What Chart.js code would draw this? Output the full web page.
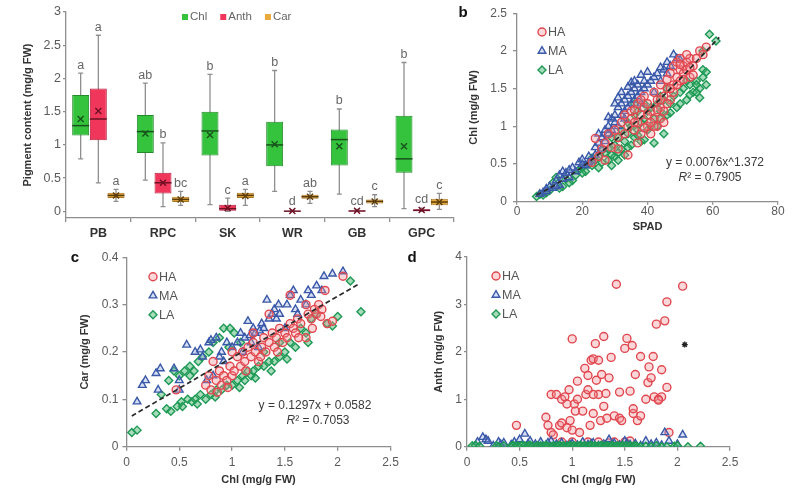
<!DOCTYPE html>
<html>
<head>
<meta charset="utf-8">
<script src="https://cdn.jsdelivr.net/npm/chart.js@4.4.0/dist/chart.umd.min.js"></script>
<style>
  body { margin: 0; background: #fff; }
  #wrap { position: relative; width: 792px; height: 492px; overflow: hidden; }
  canvas { position: absolute; }
</style>
</head>
<body>
<div id="wrap">
  <canvas id="pa" width="470" height="245" style="left:0;top:0"></canvas>
  <canvas id="pb" width="352" height="245" style="left:440px;top:0"></canvas>
  <canvas id="pc" width="420" height="247" style="left:0;top:245px"></canvas>
  <canvas id="pd" width="402" height="247" style="left:390px;top:245px"></canvas>
</div>
<script>
// ---- panel a: box plots ----
const groups = ['PB', 'RPC', 'SK', 'WR', 'GB', 'GPC'];
// [min, q1, median, q3, max, mean]
const chlBox = [
  [0.79, 1.14, 1.29, 1.75, 2.08, 1.39],
  [0.47, 0.88, 1.20, 1.45, 1.93, 1.17],
  [0.10, 0.84, 1.21, 1.50, 2.06, 1.15],
  [0.30, 0.68, 1.00, 1.35, 2.12, 1.01],
  [0.26, 0.69, 1.08, 1.23, 1.54, 0.98],
  [0.04, 0.58, 0.79, 1.44, 2.24, 0.98]
];
const anthBox = [
  [0.43, 1.07, 1.39, 1.85, 2.65, 1.51],
  [0.07, 0.27, 0.43, 0.58, 1.03, 0.43],
  [0.00, 0.00, 0.04, 0.10, 0.20, 0.05],
  [0.00, 0.00, 0.003, 0.01, 0.02, 0.005],
  [0.00, 0.00, 0.005, 0.015, 0.03, 0.01],
  [0.00, 0.005, 0.015, 0.03, 0.05, 0.02]
];
const carBox = [
  [0.15, 0.20, 0.24, 0.28, 0.33, 0.24],
  [0.09, 0.14, 0.18, 0.22, 0.30, 0.18],
  [0.09, 0.20, 0.24, 0.28, 0.33, 0.23],
  [0.12, 0.19, 0.22, 0.25, 0.30, 0.22],
  [0.07, 0.12, 0.15, 0.18, 0.25, 0.15],
  [0.03, 0.09, 0.14, 0.19, 0.27, 0.14]
];
const chlLetters = ['a', 'ab', 'b', 'b', 'b', 'b'];
const anthLetters = ['a', 'b', 'c', 'd', 'cd', 'cd'];
const carLetters = ['a', 'bc', 'a', 'ab', 'c', 'c'];
const pigmentTicks = [0, 0.5, 1, 1.5, 2, 2.5, 3];

// ---- panel b: SPAD vs Chl ----
const spadHA = [[23,0.52],[24,0.84],[25,0.6],[26,0.7],[27,0.78],[28,0.9],[29,0.72],[30,0.95],[31,0.85],[32,1.05],[33,0.9],[33,1.15],[34,1.0],[35,1.2],[35,1.1],[36,0.95],[36,1.22],[37,1.3],[37,1.05],[38,1.15],[38,0.9],[39,1.25],[39,1.4],[40,1.0],[40,1.3],[41,0.9],[41,1.2],[42,1.45],[42,1.1],[43,1.35],[43,1.0],[44,1.25],[44,1.55],[45,1.4],[45,1.2],[46,1.5],[46,1.62],[47,1.35],[47,1.7],[48,1.55],[48,1.8],[49,1.65],[49,1.85],[50,1.75],[50,1.6],[51,1.8],[51,1.7],[52,1.85],[52,1.75],[53,1.9],[53,1.65],[54,1.8],[55,1.9],[56,2.0],[57,1.95],[58,2.05],[52,1.95],[50,1.9],[48,1.45],[46,1.3],[44,1.1],[42,1.0],[40,1.15],[38,1.35],[36,1.05],[34,0.62],[37,0.78],[41,1.05],[43,1.22],[45,1.05],[47,1.5],[49,1.55],[51,1.62],[53,1.78],[54,1.68],[50,1.82],[39,0.98],[31,0.7],[27,0.55],[44,1.35]];
const spadMA = [[7,0.1],[8,0.12],[9,0.14],[10,0.2],[11,0.18],[12,0.28],[13,0.22],[13,0.35],[14,0.3],[15,0.38],[16,0.32],[17,0.45],[18,0.4],[19,0.52],[20,0.5],[21,0.48],[22,0.6],[23,0.55],[24,0.72],[25,0.78],[26,0.85],[26,0.7],[27,0.95],[27,0.8],[28,1.0],[28,0.9],[29,1.1],[29,0.95],[30,1.15],[30,1.05],[31,1.25],[31,1.0],[32,1.3],[32,1.15],[33,1.35],[33,1.2],[34,1.4],[34,1.25],[35,1.45],[35,1.3],[36,1.5],[36,1.35],[37,1.4],[37,1.55],[38,1.45],[38,1.3],[39,1.6],[39,1.5],[40,1.55],[41,1.6],[42,1.45],[42,1.65],[43,1.7],[44,1.6],[45,1.75],[46,1.85],[47,1.8],[48,1.95],[49,1.9],[50,1.88],[33,1.1],[31,1.38],[35,1.58],[9,0.17],[12,0.2],[14,0.4],[16,0.42],[20,0.56],[22,0.52],[24,0.62],[25,0.9],[28,1.12],[30,1.3],[32,1.45],[34,1.52],[36,1.6],[38,1.68],[40,1.72],[44,1.78],[46,1.7]];
const spadLA = [[6,0.07],[7,0.1],[8,0.09],[10,0.15],[11,0.25],[12,0.32],[14,0.2],[15,0.3],[17,0.28],[18,0.35],[19,0.42],[20,0.45],[21,0.4],[22,0.5],[23,0.48],[24,0.55],[25,0.6],[25,0.45],[26,0.52],[27,0.65],[28,0.55],[28,0.7],[29,0.48],[30,0.6],[30,0.75],[31,0.55],[31,0.85],[32,0.7],[32,0.95],[33,0.62],[33,0.8],[34,0.9],[34,1.05],[35,0.75],[35,1.0],[36,0.85],[36,1.15],[37,0.95],[37,1.2],[38,1.05],[38,0.8],[39,1.1],[39,1.3],[40,0.95],[40,1.2],[41,1.25],[42,0.78],[42,1.1],[43,1.3],[43,1.0],[44,1.2],[44,1.4],[45,0.9],[45,1.35],[46,1.15],[46,1.5],[47,1.3],[48,1.4],[49,1.25],[50,1.45],[51,1.5],[52,1.35],[53,1.55],[54,1.45],[55,1.6],[56,1.5],[57,1.65],[57,1.75],[58,1.55],[55,1.45],[57,2.0],[59,2.22],[61,2.13],[29,0.85],[36,1.3],[9,0.12],[13,0.18],[16,0.25],[20,0.38],[23,0.58],[26,0.68],[29,0.62],[31,0.65],[34,0.72],[37,0.88],[39,0.82],[41,1.0],[44,1.1],[47,1.18],[50,1.3],[53,1.42],[56,1.38],[58,1.72],[55,1.55],[52,1.6]];
const spadTrend = [[6,0.09],[10,0.18],[20,0.46],[30,0.81],[40,1.2],[50,1.63],[60,2.09],[62,2.18]];
const spadTicks = [0, 20, 40, 60, 80];
const chlTicksB = [0, 0.5, 1, 1.5, 2, 2.5];

// ---- panel c: Chl vs Car ----
const carHA = [[0.47,0.12],[0.75,0.13],[0.78,0.15],[0.8,0.12],[0.85,0.14],[0.88,0.16],[0.9,0.13],[0.92,0.15],[0.95,0.14],[0.98,0.17],[1.0,0.15],[1.02,0.16],[1.05,0.19],[1.08,0.17],[1.1,0.2],[1.12,0.18],[1.15,0.21],[1.18,0.19],[1.2,0.22],[1.22,0.2],[1.25,0.18],[1.28,0.21],[1.3,0.23],[1.32,0.2],[1.35,0.22],[1.38,0.24],[1.4,0.21],[1.42,0.23],[1.45,0.25],[1.48,0.22],[1.5,0.24],[1.52,0.23],[1.55,0.26],[1.58,0.25],[1.6,0.24],[1.62,0.27],[1.65,0.26],[1.7,0.23],[1.72,0.28],[1.75,0.27],[1.78,0.29],[1.8,0.28],[1.82,0.3],[1.85,0.29],[1.88,0.33],[1.9,0.26],[1.95,0.265],[2.05,0.36],[1.55,0.32],[1.2,0.24],[0.82,0.18],[1.0,0.2],[1.35,0.28],[1.7,0.3],[0.96,0.125],[1.13,0.16],[1.27,0.19],[1.43,0.2],[1.63,0.23],[1.76,0.25],[1.84,0.275],[0.86,0.115]];
const carMA = [[0.1,0.095],[0.15,0.13],[0.18,0.14],[0.28,0.155],[0.32,0.165],[0.3,0.12],[0.45,0.165],[0.5,0.14],[0.5,0.12],[0.57,0.215],[0.65,0.2],[0.7,0.205],[0.72,0.19],[0.78,0.22],[0.8,0.225],[0.82,0.15],[0.85,0.23],[0.88,0.19],[0.9,0.2],[0.95,0.22],[1.0,0.21],[1.05,0.22],[1.08,0.24],[1.12,0.23],[1.15,0.265],[1.18,0.22],[1.2,0.25],[1.22,0.24],[1.25,0.21],[1.28,0.26],[1.3,0.25],[1.33,0.31],[1.35,0.27],[1.38,0.28],[1.4,0.29],[1.42,0.27],[1.45,0.28],[1.5,0.25],[1.52,0.3],[1.55,0.32],[1.58,0.33],[1.6,0.29],[1.65,0.31],[1.7,0.3],[1.72,0.33],[1.75,0.32],[1.8,0.34],[1.85,0.33],[1.87,0.36],[1.95,0.365],[2.05,0.37],[0.92,0.18],[1.1,0.2],[0.76,0.14],[1.17,0.235],[1.26,0.245],[1.44,0.3],[1.62,0.28]];
const carLA = [[0.05,0.03],[0.1,0.035],[0.28,0.07],[0.33,0.11],[0.38,0.08],[0.42,0.075],[0.45,0.16],[0.48,0.085],[0.5,0.15],[0.52,0.095],[0.55,0.16],[0.58,0.1],[0.6,0.17],[0.62,0.095],[0.65,0.1],[0.68,0.18],[0.7,0.11],[0.72,0.19],[0.75,0.1],[0.78,0.2],[0.8,0.11],[0.82,0.22],[0.85,0.12],[0.88,0.23],[0.9,0.12],[0.92,0.25],[0.95,0.13],[0.98,0.25],[1.0,0.13],[1.02,0.24],[1.05,0.14],[1.08,0.22],[1.1,0.15],[1.12,0.14],[1.15,0.16],[1.18,0.15],[1.2,0.16],[1.25,0.17],[1.3,0.17],[1.35,0.18],[1.4,0.18],[1.45,0.19],[1.5,0.2],[1.52,0.185],[1.55,0.22],[1.6,0.21],[1.65,0.25],[1.7,0.24],[1.72,0.22],[1.75,0.27],[1.8,0.28],[1.9,0.26],[1.95,0.255],[2.0,0.275],[2.12,0.35],[2.22,0.285],[0.4,0.14],[0.6,0.15],[1.3,0.2],[1.45,0.22],[0.53,0.085],[0.67,0.09],[0.84,0.105],[1.07,0.125],[1.22,0.145],[1.37,0.16],[0.97,0.21],[0.64,0.16]];
const carTrend = [[0.05,0.065],[2.21,0.345]];
const chlTicks = [0, 0.5, 1, 1.5, 2, 2.5];
const carTicks = [0, 0.1, 0.2, 0.3, 0.4];

// ---- panel d: Chl vs Anth ----
const anthHA = [[0.47,0.45],[0.75,0.62],[0.77,0.45],[0.8,0.3],[0.82,0.25],[0.8,1.1],[0.85,1.1],[0.88,0.45],[0.9,1.0],[0.9,0.5],[0.93,1.05],[0.95,0.4],[0.97,1.2],[0.98,0.55],[1.0,0.35],[1.0,2.27],[1.02,0.9],[1.03,0.75],[1.05,1.38],[1.07,0.3],[1.1,0.75],[1.12,1.65],[1.13,1.1],[1.15,1.5],[1.15,1.2],[1.17,0.45],[1.18,1.82],[1.2,0.7],[1.2,1.85],[1.22,2.17],[1.23,1.4],[1.25,1.1],[1.25,1.82],[1.27,0.55],[1.28,1.52],[1.3,2.32],[1.3,0.85],[1.32,1.12],[1.33,0.6],[1.35,1.45],[1.37,1.88],[1.4,0.65],[1.42,3.42],[1.45,0.6],[1.47,0.55],[1.5,2.07],[1.5,0.1],[1.52,2.28],[1.55,1.17],[1.57,2.13],[1.58,0.7],[1.58,0.8],[1.6,1.52],[1.62,0.55],[1.65,1.9],[1.65,0.65],[1.7,1.0],[1.72,1.35],[1.73,1.68],[1.75,1.45],[1.77,1.9],[1.78,1.05],[1.8,2.58],[1.82,1.0],[1.85,1.05],[1.85,1.62],[1.88,2.65],[1.9,1.25],[1.9,3.05],[1.92,0.3],[2.05,3.38],[1.15,0.1],[1.0,0.1],[0.9,0.1],[1.25,0.1],[1.4,0.1],[1.55,0.12],[1.35,0.08],[1.82,0.98],[1.2,1.1],[1.45,1.15],[1.05,1.0],[0.95,0.9]];
const anthMA = [[0.1,0.1],[0.15,0.2],[0.18,0.15],[0.2,0.12],[0.3,0.1],[0.32,0.05],[0.35,0.08],[0.45,0.1],[0.5,0.15],[0.55,0.27],[0.6,0.12],[0.65,0.05],[0.7,0.1],[0.75,0.03],[0.8,0.12],[0.85,0.05],[0.9,0.08],[0.95,0.02],[1.0,0.06],[1.05,0.03],[1.1,0.1],[1.15,0.04],[1.2,0.08],[1.25,0.02],[1.3,0.05],[1.35,0.15],[1.4,0.07],[1.45,0.03],[1.5,0.12],[1.55,0.04],[1.6,0.06],[1.7,0.12],[1.75,0.05],[1.8,0.08],[1.85,0.03],[1.88,0.3],[1.92,0.12],[2.05,0.25],[2.0,0.05],[0.25,0.02],[1.65,0.02],[0.42,0.04],[0.58,0.06],[0.77,0.08],[0.98,0.04],[1.18,0.06],[1.38,0.04],[1.52,0.07]];
const anthLA = [[0.05,0.02],[0.08,0.03],[0.12,0.01],[0.28,0.02],[0.3,0.0],[0.35,0.02],[0.42,0.01],[0.44,0.03],[0.46,0.0],[0.48,0.02],[0.5,0.0],[0.52,0.03],[0.55,0.02],[0.57,0.0],[0.58,0.01],[0.6,0.03],[0.62,0.01],[0.65,0.0],[0.67,0.02],[0.7,0.02],[0.72,0.01],[0.74,0.0],[0.75,0.03],[0.77,0.01],[0.8,0.0],[0.82,0.02],[0.84,0.0],[0.85,0.01],[0.87,0.02],[0.88,0.03],[0.9,0.0],[0.91,0.01],[0.92,0.02],[0.94,0.0],[0.95,0.01],[0.97,0.02],[0.98,0.03],[1.0,0.0],[1.01,0.01],[1.02,0.02],[1.04,0.0],[1.05,0.01],[1.07,0.02],[1.08,0.03],[1.1,0.0],[1.11,0.01],[1.12,0.02],[1.14,0.0],[1.15,0.01],[1.17,0.02],[1.18,0.03],[1.2,0.0],[1.21,0.01],[1.22,0.02],[1.24,0.0],[1.25,0.01],[1.27,0.02],[1.28,0.03],[1.3,0.0],[1.31,0.01],[1.33,0.02],[1.35,0.01],[1.37,0.0],[1.38,0.03],[1.4,0.0],[1.42,0.01],[1.43,0.02],[1.45,0.01],[1.47,0.0],[1.48,0.03],[1.5,0.0],[1.52,0.02],[1.55,0.02],[1.57,0.0],[1.58,0.01],[1.6,0.02],[1.62,0.0],[1.65,0.0],[1.7,0.01],[1.75,0.0],[1.8,0.02],[1.85,0.0],[1.9,0.0],[1.97,0.01],[2.0,0.02],[2.1,0.0],[2.22,0.01]];
const anthStar = [[2.07, 2.15]];
const anthTicks = [0, 1, 2, 3, 4];

// ---- drawing helpers ----
Chart.defaults.font.family = "'Liberation Sans', Arial, sans-serif";
const axisColor = '#8e8e8e';
const tickColor = '#5a5a5a';
const titleColor = '#333';

const seriesStyle = {
  HA: { style: 'circle', radius: 4, stroke: '#e0474f', fill: 'rgba(240,140,145,0.35)' },
  MA: { style: 'triangle', radius: 4.4, stroke: '#3a58a8', fill: 'rgba(120,150,220,0.3)' },
  LA: { style: 'rectRot', radius: 4, stroke: '#1e9a55', fill: 'rgba(60,175,105,0.45)' }
};

function drawMarker(ctx, s, x, y) {
  ctx.save();
  ctx.strokeStyle = s.stroke;
  ctx.fillStyle = s.fill;
  ctx.lineWidth = 1.4;
  Chart.helpers.drawPoint(ctx, { pointStyle: s.style, radius: s.radius, borderWidth: 1.4, rotation: 0 }, x, y);
  ctx.restore();
}

function drawEq(ctx, line1, r2, x1, y1, x2, y2) {
  const plain = "12px 'Liberation Sans', Arial, sans-serif";
  const ital = "italic 12px 'Liberation Sans', Arial, sans-serif";
  ctx.save();
  ctx.fillStyle = '#3a3a3a';
  ctx.font = plain;
  ctx.textAlign = 'center';
  ctx.textBaseline = 'middle';
  ctx.fillText(line1, x1, y1);
  const rest = '\u00b2 = ' + r2;
  ctx.font = ital;
  const wR = ctx.measureText('R').width;
  ctx.font = plain;
  const wRest = ctx.measureText(rest).width;
  const start = x2 - (wR + wRest) / 2;
  ctx.textAlign = 'left';
  ctx.font = ital;
  ctx.fillText('R', start, y2);
  ctx.font = plain;
  ctx.fillText(rest, start + wR, y2);
  ctx.restore();
}

function extras(cfg) {
  return {
    id: 'extras',
    afterDraw(chart) {
      const ctx = chart.ctx;
      ctx.save();
      ctx.fillStyle = '#111';
      ctx.font = "bold 15px 'Liberation Sans', Arial, sans-serif";
      ctx.textBaseline = 'middle';
      ctx.textAlign = 'center';
      ctx.fillText(cfg.letter, cfg.letterX, cfg.letterY);
      ['HA', 'MA', 'LA'].forEach((name, i) => {
        const y = cfg.legY + i * 19;
        drawMarker(ctx, seriesStyle[name], cfg.legX, y);
        ctx.fillStyle = '#555';
        ctx.font = "12.5px 'Liberation Sans', Arial, sans-serif";
        ctx.textAlign = 'left';
        ctx.fillText(name, cfg.legX + 6, y + 0.5);
      });
      if (cfg.eq) drawEq(ctx, cfg.eq, cfg.r2, cfg.eqX, cfg.eqY, cfg.r2X, cfg.eqY + 15);
      ctx.restore();
    }
  };
}

function pts(name, data, order) {
  const s = seriesStyle[name];
  return {
    label: name, data: data, order: order,
    pointStyle: s.style, pointRadius: s.radius, pointBorderWidth: 1.4,
    borderColor: s.stroke, backgroundColor: s.fill
  };
}

function linearAxis(o) {
  return {
    type: 'linear', position: o.position, min: o.ticks[0], max: o.ticks[o.ticks.length - 1],
    afterBuildTicks: s => { s.ticks = o.ticks.map(v => ({ value: v })); },
    afterFit: s => { if (o.position === 'left') s.width = o.size; else s.height = o.size; },
    border: { color: axisColor, width: 1.3 },
    grid: { display: true, drawOnChartArea: false, color: axisColor, lineWidth: 1.3, tickLength: o.tl },
    ticks: { padding: o.pad, color: tickColor, font: { size: 12 }, callback: v => String(v) },
    title: {
      display: true, text: o.title, color: titleColor, font: { size: 11, weight: 'bold' },
      padding: o.position === 'left' ? { top: o.tpad, bottom: 0 } : { top: 0, bottom: o.tpad }
    }
  };
}

// lower order is drawn on top
function scatterChart(id, o) {
  const ord = o.order || [1, 2, 3];
  const datasets = [
    pts('HA', o.ha, ord[0]),
    pts('MA', o.ma, ord[1]),
    pts('LA', o.la, ord[2])
  ];
  if (o.trend) {
    datasets.push({
      type: 'line', data: o.trend, order: 0, borderColor: '#2a2a2a', borderWidth: 1.7,
      borderDash: [5, 3], pointRadius: 0, fill: false, tension: 0.3
    });
  }
  if (o.star) {
    datasets.push({
      data: o.star, order: 0, pointStyle: 'star', pointRadius: 3,
      borderColor: '#222', backgroundColor: '#222', pointBorderWidth: 1.3
    });
  }
  return new Chart(document.getElementById(id), {
    type: 'scatter',
    data: { datasets: datasets },
    options: {
      responsive: false, animation: false,
      layout: { padding: { left: 0, top: o.top, right: o.right, bottom: 0 } },
      plugins: { legend: { display: false }, tooltip: { enabled: false } },
      scales: { x: linearAxis(o.x), y: linearAxis(o.y) }
    },
    plugins: [extras(o.extras)]
  });
}

// ---- panel a ----
const boxSeries = [
  { label: 'Chl', stats: chlBox, letters: chlLetters, fill: '#35c23d', edge: '#23892a', dark: '#17531b' },
  { label: 'Anth', stats: anthBox, letters: anthLetters, fill: '#f1365b', edge: '#b51f3e', dark: '#6e1024' },
  { label: 'Car', stats: carBox, letters: carLetters, fill: '#e8aa3c', edge: '#a87420', dark: '#5a3c0c' }
];

const boxPlot = {
  id: 'boxPlot',
  beforeDatasetsDraw(chart) {
    const ctx = chart.ctx, y = chart.scales.y;
    ctx.save();
    ctx.strokeStyle = '#8f8f8f';
    ctx.lineWidth = 1.3;
    boxSeries.forEach((s, d) => {
      chart.getDatasetMeta(d).data.forEach((bar, i) => {
        const st = s.stats[i];
        const lo = y.getPixelForValue(st[0]), hi = y.getPixelForValue(st[4]);
        ctx.beginPath();
        ctx.moveTo(bar.x, lo); ctx.lineTo(bar.x, hi);
        ctx.moveTo(bar.x - 2.5, lo); ctx.lineTo(bar.x + 2.5, lo);
        ctx.moveTo(bar.x - 2.5, hi); ctx.lineTo(bar.x + 2.5, hi);
        ctx.stroke();
      });
    });
    ctx.restore();
  },
  afterDatasetsDraw(chart) {
    const ctx = chart.ctx, y = chart.scales.y;
    ctx.save();
    boxSeries.forEach((s, d) => {
      chart.getDatasetMeta(d).data.forEach((bar, i) => {
        const st = s.stats[i];
        const half = bar.width / 2;
        const my = y.getPixelForValue(st[2]);
        ctx.strokeStyle = s.dark;
        ctx.lineWidth = 1.5;
        ctx.beginPath();
        ctx.moveTo(bar.x - half, my); ctx.lineTo(bar.x + half, my);
        ctx.stroke();
        const mx = y.getPixelForValue(st[5]);
        ctx.lineWidth = 1.4;
        ctx.beginPath();
        ctx.moveTo(bar.x - 3, mx - 3); ctx.lineTo(bar.x + 3, mx + 3);
        ctx.moveTo(bar.x - 3, mx + 3); ctx.lineTo(bar.x + 3, mx - 3);
        ctx.stroke();
        ctx.fillStyle = '#666';
        ctx.font = "12.5px 'Liberation Sans', Arial, sans-serif";
        ctx.textAlign = 'center';
        ctx.textBaseline = 'middle';
        ctx.fillText(s.letters[i], bar.x, y.getPixelForValue(st[4]) - 8);
      });
    });
    // legend
    let lx = 185;
    const ly = 17;
    ctx.font = "11.5px 'Liberation Sans', Arial, sans-serif";
    ctx.textBaseline = 'middle';
    ctx.textAlign = 'left';
    boxSeries.forEach(s => {
      ctx.fillStyle = s.fill;
      ctx.fillRect(lx - 3, ly - 3, 6, 6);
      ctx.fillStyle = '#666';
      ctx.fillText(s.label, lx + 5, ly);
      lx += ctx.measureText(s.label).width + 21;
    });
    ctx.restore();
  }
};

new Chart(document.getElementById('pa'), {
  type: 'bar',
  data: {
    labels: groups,
    datasets: boxSeries.map(s => ({
      label: s.label,
      data: s.stats.map(st => [st[1], st[3]]),
      backgroundColor: s.fill,
      borderColor: s.edge,
      borderWidth: 1,
      borderSkipped: false,
      categoryPercentage: 0.82,
      barPercentage: 0.96
    }))
  },
  options: {
    responsive: false, animation: false,
    layout: { padding: { left: 0, top: 12, right: 16, bottom: 0 } },
    plugins: { legend: { display: false }, tooltip: { enabled: false } },
    scales: {
      x: {
        afterFit: s => { s.height = 27; },
        border: { color: axisColor, width: 1.3 },
        grid: { display: true, drawOnChartArea: false, color: axisColor, lineWidth: 1.3, tickLength: 4 },
        ticks: { padding: 4, color: '#333', font: { size: 12.5, weight: 'bold' } }
      },
      y: {
        min: -0.1, max: 3,
        afterBuildTicks: s => { s.ticks = pigmentTicks.map(v => ({ value: v })); },
        afterFit: s => { s.width = 66; },
        border: { color: axisColor, width: 1.3 },
        grid: { display: true, drawOnChartArea: false, color: axisColor, lineWidth: 1.3, tickLength: 3 },
        ticks: { padding: 2, color: tickColor, font: { size: 12.5 }, callback: v => String(v) },
        title: {
          display: true, text: 'Pigment content (mg/g FW)', color: titleColor,
          font: { size: 11, weight: 'bold' }, padding: { top: 21, bottom: 0 }
        }
      }
    }
  },
  plugins: [boxPlot]
});

// ---- panel b ----
scatterChart('pb', {
  ha: spadHA, ma: spadMA, la: spadLA, trend: spadTrend,
  top: 10, right: 14,
  x: { position: 'bottom', ticks: spadTicks, size: 43.3, tl: 3, pad: 0, title: 'SPAD', tpad: 11 },
  y: { position: 'left', ticks: chlTicksB, size: 77, tl: 4, pad: 6, title: 'Chl (mg/g FW)', tpad: 27 },
  extras: { letter: 'b', letterX: 23, letterY: 13, legX: 102, legY: 32,
    eq: 'y = 0.0076x^1.372', r2: '0.7905', eqX: 275, eqY: 163, r2X: 270 }
});

// ---- panel c ----
scatterChart('pc', {
  ha: carHA, ma: carMA, la: carLA, trend: carTrend,
  top: 12.3, right: 29.5,
  x: { position: 'bottom', ticks: chlTicks, size: 45.3, tl: 4, pad: 5, title: 'Chl (mg/g FW)', tpad: 5 },
  y: { position: 'left', ticks: carTicks, size: 126.5, tl: 4, pad: 4, title: 'Car (mg/g FW)', tpad: 78 },
  extras: { letter: 'c', letterX: 75, letterY: 13, legX: 153, legY: 31.7,
    eq: 'y = 0.1297x + 0.0582', r2: '0.7053', eqX: 315, eqY: 161, r2X: 318 }
});

// ---- panel d ----
scatterChart('pd', {
  ha: anthHA, ma: anthMA, la: anthLA, star: anthStar, order: [3, 2, 1],
  top: 11.7, right: 62,
  x: { position: 'bottom', ticks: chlTicks, size: 45.3, tl: 4, pad: 5, title: 'Chl (mg/g FW)', tpad: 5 },
  y: { position: 'left', ticks: anthTicks, size: 77, tl: 3, pad: 2, title: 'Anth (mg/g FW)', tpad: 42 },
  extras: { letter: 'd', letterX: 22, letterY: 13, legX: 106, legY: 31 }
});
</script>
</body>
</html>
